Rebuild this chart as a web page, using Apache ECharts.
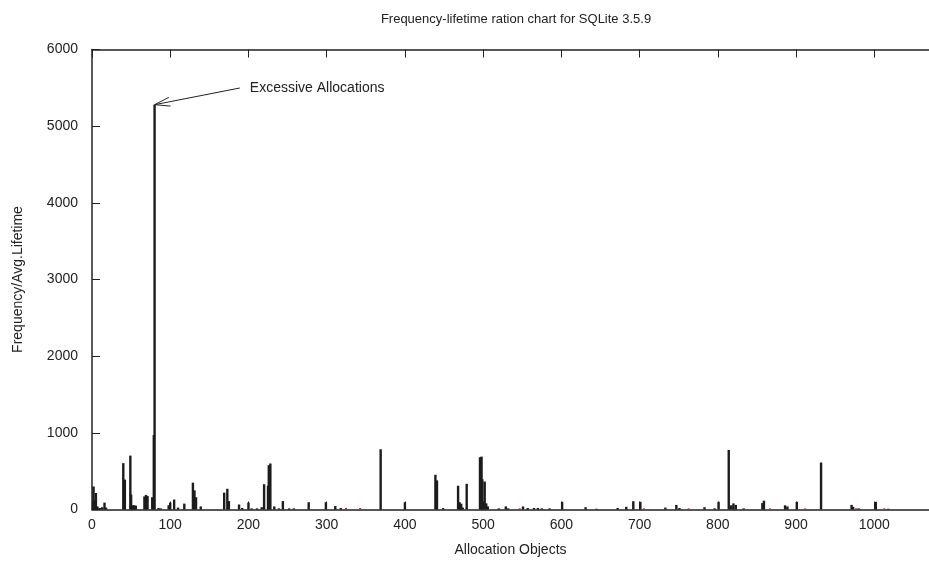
<!DOCTYPE html>
<html>
<head>
<meta charset="utf-8">
<script src="https://cdn.jsdelivr.net/npm/echarts@6/dist/echarts.min.js"></script>
<style>
  html, body { margin: 0; padding: 0; background: #fff; }
  #chart { width: 929px; height: 563px; }
</style>
</head>
<body>
<div id="chart"></div>
<script>
// Allocation object index (x) and frequency / average lifetime ratio (y)
const objectIds = [
  2, 3, 5, 7, 10, 13, 16, 18, 40, 42, 49, 50, 52, 54, 56, 67, 69, 71, 77, 79, 80,
  85, 88, 98, 100, 105, 110, 118, 129, 131, 133, 139, 169, 173, 175, 188, 192, 200,
  204, 211, 217, 220, 225, 226, 228, 233, 239, 244, 252, 258, 277, 299, 311, 318,
  369, 400, 439, 441, 449, 468, 470, 472, 474, 479, 496, 498, 499, 502, 504, 506,
  520, 529, 532, 551, 557, 565, 570, 575, 585, 601, 631, 645, 672, 683, 692, 701,
  733, 747, 751, 783, 796, 801, 814, 817, 820, 823, 833, 857, 859, 886, 889, 901,
  932, 971, 973, 980, 1002, 1018
];
const ratios = [
  300, 120, 215, 40, 20, 30, 90, 25, 605, 390, 703, 195, 55, 55, 50, 170, 190, 175, 160, 971, 5280,
  20, 15, 55, 90, 130, 25, 77, 350, 250, 160, 40, 220, 270, 110, 65, 20, 90,
  15, 15, 30, 330, 310, 578, 600, 40, 15, 110, 15, 15, 95, 95, 45, 20,
  786, 95, 453, 380, 15, 310, 95, 75, 25, 335, 682, 690, 395, 365, 80, 40,
  15, 40, 15, 40, 20, 20, 20, 15, 15, 100, 30, 10, 20, 35, 108, 100,
  25, 60, 20, 30, 15, 100, 777, 55, 80, 60, 15, 85, 115, 55, 40, 100,
  613, 60, 35, 15, 100, 10
];
// Small secondary measurements drawn in red near the baseline
const minorIds = [4, 50, 132, 227, 311, 325, 343, 449, 479, 547, 706, 763, 820, 867, 887, 912, 977, 1013];
const minorRatios = [30, 20, 30, 25, 15, 20, 20, 20, 15, 15, 15, 15, 40, 15, 15, 15, 15, 15];

const xTicks = { min: 0, max: 1070, interval: 100 };
const yTicks = { min: 0, max: 6000, interval: 1000 };
const peakLabel = 'Excessive Allocations';
const labelAnchor = [189, 5498];

const mainData = objectIds.map((x, i) => [x, ratios[i]]);
const minorData = minorIds.map((x, i) => [x, minorRatios[i]]);

const FONT = 'Liberation Sans, Arial, sans-serif';
const chart = echarts.init(document.getElementById('chart'), null, { renderer: 'canvas' });

const plainNumber = v => String(v);
const axisCommon = {
  axisLine: { show: true, lineStyle: { color: '#222', width: 1.5 } },
  axisTick: { show: true, inside: true, length: 8, lineStyle: { color: '#222', width: 1 } },
  splitLine: { show: false },
  axisLabel: { color: '#222', fontFamily: FONT, fontSize: 14, formatter: plainNumber }
};

chart.setOption({
  animation: false,
  backgroundColor: '#fff',
  title: {
    text: 'Frequency-lifetime ration chart for SQLite 3.5.9',
    left: 511, top: 8, textAlign: 'center',
    textStyle: { fontFamily: FONT, fontSize: 13, fontWeight: 'normal', color: '#222' }
  },
  grid: { left: 92, right: 0, top: 49.5, bottom: 53.5 },
  xAxis: [
    Object.assign({}, axisCommon, {
      type: 'value', position: 'bottom',
      min: xTicks.min, max: xTicks.max, interval: xTicks.interval,
      name: 'Allocation Objects', nameLocation: 'middle', nameGap: 34,
      nameTextStyle: { fontFamily: FONT, fontSize: 14, color: '#222' },
      axisLabel: Object.assign({}, axisCommon.axisLabel, {
        margin: 9,
        showMaxLabel: false
      })
    }),
    Object.assign({}, axisCommon, {
      type: 'value', position: 'top',
      min: xTicks.min, max: xTicks.max, interval: xTicks.interval,
      axisLabel: { show: false }
    })
  ],
  yAxis: Object.assign({}, axisCommon, {
    type: 'value',
    min: yTicks.min, max: yTicks.max, interval: yTicks.interval,
    name: 'Frequency/Avg.Lifetime', nameLocation: 'middle', nameGap: 67,
    nameTextStyle: { fontFamily: FONT, fontSize: 14, color: '#222' },
    axisLabel: Object.assign({}, axisCommon.axisLabel, { margin: 14 })
  }),
  series: [
    {
      type: 'bar', name: 'minor', data: minorData, barWidth: 2, barGap: '-100%',
      itemStyle: { color: '#b22222' }
    },
    {
      type: 'bar', name: 'ratio', data: mainData, barWidth: 2.4, barGap: '-100%',
      itemStyle: { color: '#1c1c1c' }
    }
  ]
});

// Arrow annotation pointing at the tallest bar
function drawAnnotation() {
  let peakIdx = 0;
  ratios.forEach((v, i) => { if (v > ratios[peakIdx]) peakIdx = i; });
  const tip = chart.convertToPixel({ gridIndex: 0 }, [objectIds[peakIdx], ratios[peakIdx]]);
  const tail = chart.convertToPixel({ gridIndex: 0 }, labelAnchor);
  const ang = Math.atan2(tail[1] - tip[1], tail[0] - tip[0]);
  const headLen = 16, spread = 0.28;
  const h1 = [tip[0] + headLen * Math.cos(ang + spread), tip[1] + headLen * Math.sin(ang + spread)];
  const h2 = [tip[0] + headLen * Math.cos(ang - spread), tip[1] + headLen * Math.sin(ang - spread)];
  chart.setOption({
    graphic: [
      { type: 'line', shape: { x1: tail[0], y1: tail[1], x2: tip[0], y2: tip[1] },
        style: { stroke: '#222', lineWidth: 1 } },
      { type: 'polyline', shape: { points: [h1, tip, h2] },
        style: { stroke: '#222', lineWidth: 1, fill: null } },
      { type: 'text', x: tail[0] + 10, y: tail[1],
        style: { text: peakLabel, fontFamily: FONT, fontSize: 14, fill: '#222',
                 textVerticalAlign: 'middle', verticalAlign: 'middle' } }
    ]
  });
}
drawAnnotation();
</script>
</body>
</html>
